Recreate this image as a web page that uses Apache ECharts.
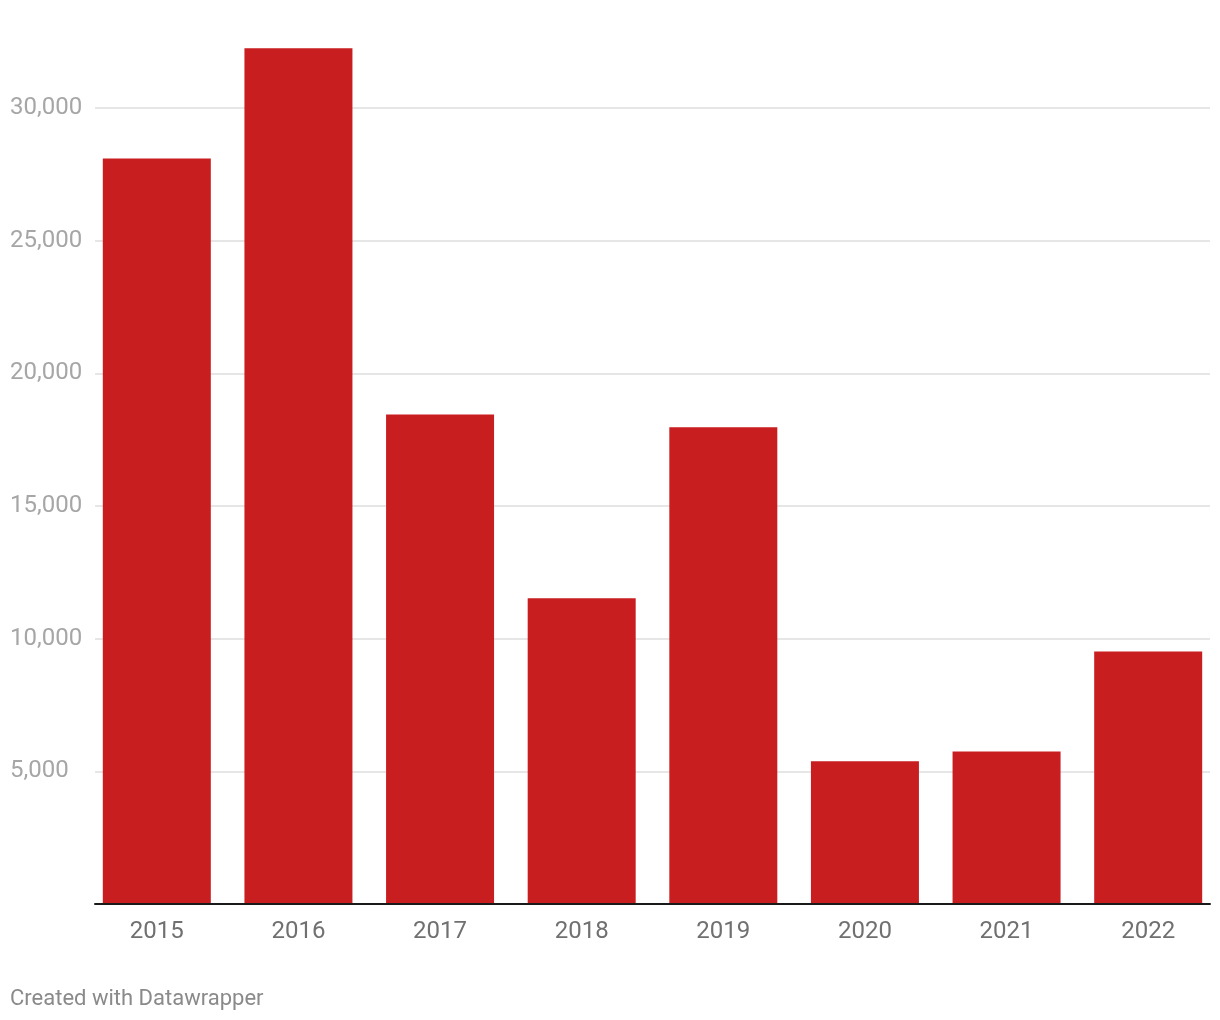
<!DOCTYPE html>
<html>
<head>
<meta charset="utf-8">
<script src="https://cdn.jsdelivr.net/npm/echarts@6/dist/echarts.min.js"></script>
<style>
html,body{margin:0;padding:0;background:#fff;}
#chart{width:1220px;height:1020px;}
</style>
</head>
<body>
<div id="chart"></div>
<script>
const categories = ['2015', '2016', '2017', '2018', '2019', '2020', '2021', '2022'];
const values = [28100, 32250, 18450, 11520, 17970, 5380, 5750, 9520];
const yTicks = [5000, 10000, 15000, 20000, 25000, 30000];
const creditText = 'Created with Datawrapper';

const chart = echarts.init(document.getElementById('chart'));
const fontFamily = 'Roboto, "Noto Sans", sans-serif';
const yMax = 32565;
const option = {
  animation: false,
  backgroundColor: '#ffffff',
  grid: [
    { left: 95, right: 10, top: 40, bottom: 116 },
    { left: 86, right: 1, top: 40, bottom: 116 }
  ],
  xAxis: [
    {
      type: 'category', gridIndex: 0, data: categories, z: 5,
      axisLine: { show: true, lineStyle: { color: '#1a1a1a', width: 2 } },
      axisTick: { show: false }, axisLabel: { show: false }, splitLine: { show: false }
    },
    {
      type: 'category', gridIndex: 1, data: categories,
      axisLine: { show: false }, axisTick: { show: false },
      axisLabel: { color: '#707070', fontSize: 24, fontFamily: fontFamily, margin: 16 }
    }
  ],
  yAxis: [
    {
      type: 'value', gridIndex: 0, min: 0, max: yMax, interval: 5000,
      axisLine: { show: false }, axisTick: { show: false },
      splitLine: { show: true, showMaxLine: false, showMinLine: false, lineStyle: { color: '#e6e6e6', width: 2 } },
      axisLabel: {
        color: '#a6a6a6', fontSize: 24, fontFamily: fontFamily, align: 'left', margin: 85,
        showMaxLabel: false,
        formatter: function (v) {
          return yTicks.indexOf(v) >= 0 ? v.toLocaleString('en-US') : '';
        }
      }
    },
    {
      type: 'value', gridIndex: 1, min: 0, max: yMax, interval: 5000, show: false,
      splitLine: { show: false }
    }
  ],
  series: [
    {
      type: 'bar', xAxisIndex: 1, yAxisIndex: 1, data: values, barWidth: 108,
      itemStyle: { color: '#c91e1f' }
    }
  ],
  graphic: [
    {
      type: 'text', left: 10, top: 988,
      style: { text: creditText, fill: '#8a8a8a', fontSize: 22, fontFamily: fontFamily }
    }
  ]
};
chart.setOption(option);
</script>
</body>
</html>
